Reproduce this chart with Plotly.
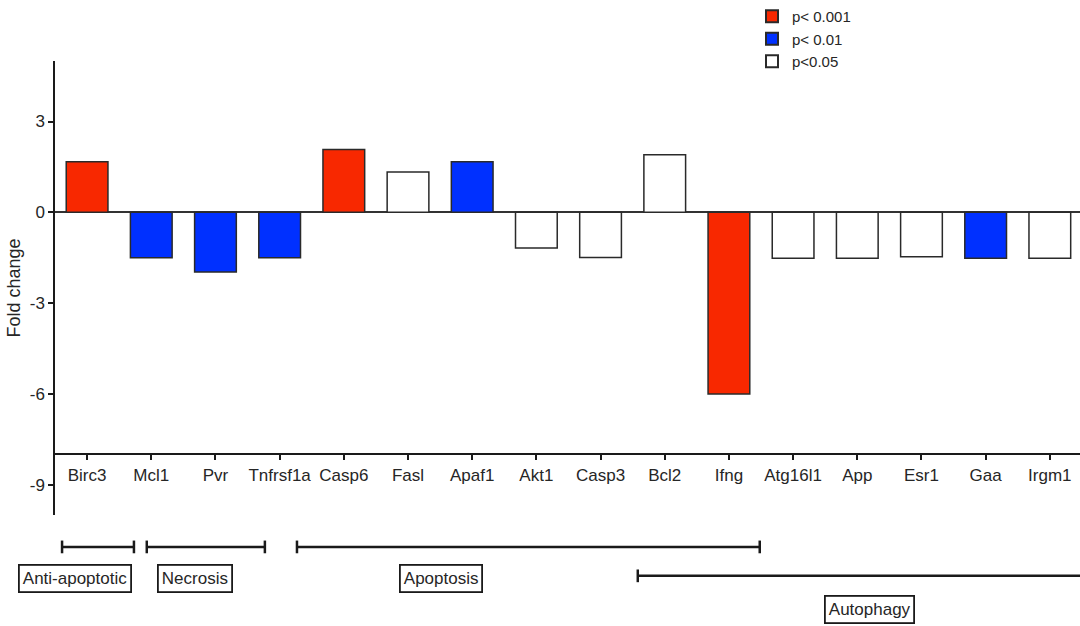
import plotly.graph_objects as go

# Gene expression fold changes and significance classes
genes = ["Birc3", "Mcl1", "Pvr", "Tnfrsf1a", "Casp6", "Fasl", "Apaf1", "Akt1",
         "Casp3", "Bcl2", "Ifng", "Atg16l1", "App", "Esr1", "Gaa", "Irgm1"]
fold_change = [1.67, -1.5, -1.97, -1.5, 2.08, 1.33, 1.67, -1.18,
               -1.49, 1.9, -6.0, -1.52, -1.52, -1.47, -1.52, -1.52]
significance = ["p< 0.001", "p< 0.01", "p< 0.01", "p< 0.01", "p< 0.001", "p<0.05",
                "p< 0.01", "p<0.05", "p<0.05", "p<0.05", "p< 0.001", "p<0.05",
                "p<0.05", "p<0.05", "p< 0.01", "p<0.05"]
y_ticks = [-9, -6, -3, 0, 3]

sig_levels = ["p< 0.001", "p< 0.01", "p<0.05"]
sig_colors = {"p< 0.001": "#F82800", "p< 0.01": "#0030FF", "p<0.05": "#FFFFFF"}

# Functional groups: label, bracket start/end (category units), label centre, row
groups = [
    ("Anti-apoptotic", -0.39, 0.73, -0.19, 0),
    ("Necrosis", 0.93, 2.77, 1.68, 0),
    ("Apoptosis", 3.27, 10.48, 5.51, 0),
    ("Autophagy", 8.58, 15.6, 12.19, 1),
]

FONT = "Liberation Sans, Arial, sans-serif"
TEXT = "#262626"

fig = go.Figure()
for level in sig_levels:
    vals = [v if s == level else None for v, s in zip(fold_change, significance)]
    fig.add_trace(go.Bar(
        x=genes, y=vals, name=level, width=0.65,
        marker=dict(color=sig_colors[level], line=dict(color="#2a2a2a", width=1.5)),
    ))

# Group brackets and boxed labels under the axis
bracket_y = [-0.0703, -0.134]
label_y = [-0.1396, -0.2077]
cap = 0.014
for name, x0, x1, xc, row in groups:
    by = bracket_y[row]
    line = dict(color="#1a1a1a", width=2.5)
    fig.add_shape(type="line", xref="x", yref="paper", x0=x0, x1=x1, y0=by, y1=by, line=line)
    fig.add_shape(type="line", xref="x", yref="paper", x0=x0, x1=x0, y0=by - cap, y1=by + cap, line=line)
    fig.add_shape(type="line", xref="x", yref="paper", x0=x1, x1=x1, y0=by - cap, y1=by + cap, line=line)
    fig.add_annotation(x=xc, y=label_y[row], xref="x", yref="paper", text=name,
                       showarrow=False, font=dict(family=FONT, size=17, color=TEXT),
                       bordercolor="#1a1a1a", borderwidth=1.8, borderpad=3,
                       bgcolor="white", yanchor="middle")

fig.update_layout(
    width=1080, height=626,
    margin=dict(l=55, r=0, t=60, b=111),
    paper_bgcolor="white", plot_bgcolor="white",
    barmode="overlay",
    font=dict(family=FONT, size=17, color=TEXT),
    showlegend=True,
    legend=dict(x=0.68, y=1.135, xanchor="left", yanchor="top",
                bgcolor="rgba(0,0,0,0)", font=dict(size=15, color=TEXT),
                itemsizing="constant", tracegroupgap=0),
    xaxis=dict(
        range=[-0.5, 15.47], anchor="free", position=2 / 15,
        showline=True, linecolor="#1a1a1a", linewidth=1.5,
        ticks="outside", ticklen=5, tickcolor="#1a1a1a", tickwidth=1.5,
        showgrid=False, zeroline=False, tickfont=dict(size=17),
    ),
    yaxis=dict(
        range=[-10, 5], tickvals=y_ticks, ticktext=[str(t) for t in y_ticks],
        showline=True, linecolor="#1a1a1a", linewidth=1.5,
        ticks="outside", ticklen=5, tickcolor="#1a1a1a", tickwidth=1.5,
        showgrid=False, zeroline=True, zerolinecolor="#333333", zerolinewidth=1.5,
        title=dict(text="Fold change", font=dict(size=18), standoff=4),
        tickfont=dict(size=17),
    ),
)

fig.write_html("out.html")
